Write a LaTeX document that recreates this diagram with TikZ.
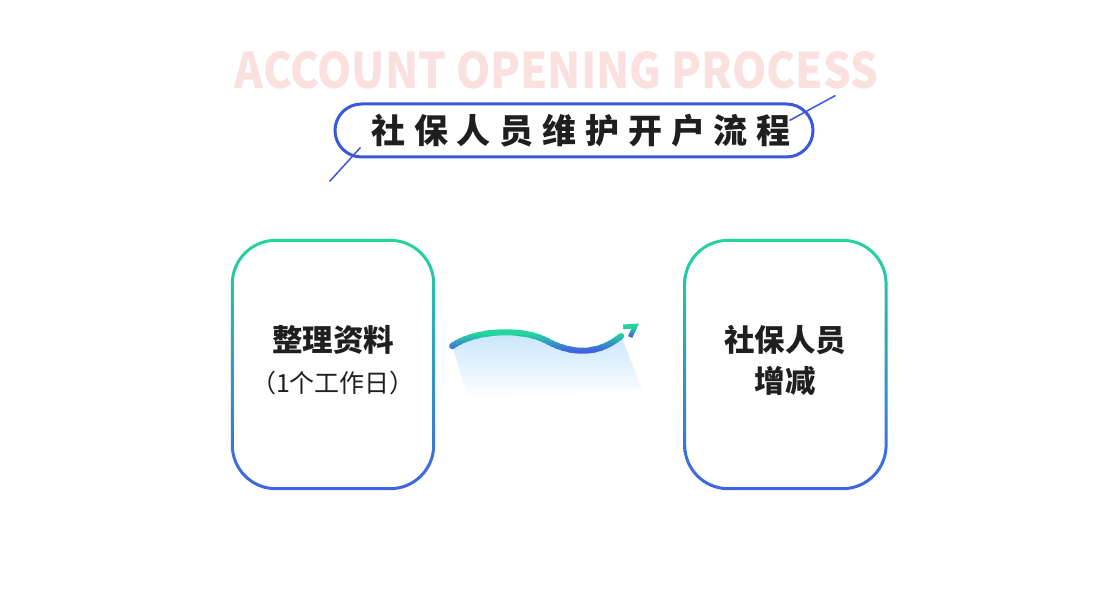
\documentclass[tikz,border=0pt]{standalone}
\usepackage{fontspec}
\setmainfont{Noto Sans CJK SC}
\definecolor{MainGreen}{RGB}{34, 214, 158}
\definecolor{MainBlue}{RGB}{64, 98, 226}
\definecolor{FrameBlue}{RGB}{58, 88, 222}
\definecolor{PaleRed}{RGB}{250, 224, 222}
\definecolor{ShadeBlue}{RGB}{196, 228, 250}
\usetikzlibrary{arrows.meta, positioning, calc}

\begin{document}
\begin{tikzpicture}[x=1pt, y=1pt]
        \tikzstyle{card} = [rectangle, minimum width=204pt, minimum height=251pt, text depth=12pt, align=center, text=black!88, font=\bfseries\fontsize{30.5}{41}\selectfont]
        \tikzstyle{frame} = [top color=MainGreen, bottom color=MainBlue, even odd rule]
        \tikzstyle{wave} = [line width=6pt, line cap=round]
        \tikzstyle{barb} = [line width=4.5pt, line cap=butt, line join=miter]

        \fill[white] (0,0) rectangle (1110,591);
        \useasboundingbox (0,0) rectangle (1110,591);

        % Titles
        \node (entitle) at (556.5,521) [text=PaleRed, font=\bfseries\fontsize{49}{49}\selectfont] {\scalebox{0.89}[1]{ACCOUNT OPENING PROCESS}};
        \node (title) at (574,460.5) [draw=FrameBlue, line width=3pt, rounded corners=26.5pt, minimum width=478pt, minimum height=53pt, inner sep=0pt, text=black!88, font=\bfseries\fontsize{34}{34}\selectfont] {\hspace*{14pt}\addfontfeatures{LetterSpace=26}社保人员维护开户流程};
        \draw [FrameBlue, line width=1.5pt] ([shift={(-4,-23)}]title.south west) -- ([shift={(27,11)}]title.south west);
        \draw [FrameBlue, line width=1.5pt] ([shift={(-25,-18)}]title.north east) -- ([shift={(21,7)}]title.north east);

        % Nodes
        \node (prep) at (333,226.5) [card] {整理资料\\{\mdseries\fontsize{25}{41}\selectfont （1个工作日）}};
        \node (change) [card, right=248pt of prep] {社保人员\\增减};

        % Frames
        \foreach \n in {prep, change}
            \shade [frame, rounded corners=45pt] (\n.south west) rectangle (\n.north east)
                [rounded corners=42pt] ([shift={(3,3)}]\n.south west) rectangle ([shift={(-3,-3)}]\n.north east);

        % Wave
        \coordinate (wS) at ([shift={(17,18.5)}]prep.east);
        \coordinate (wE) at ([shift={(-62,28.5)}]change.west);
        \coordinate (wM) at ($(wS)+(93,6)$);
        \coordinate (wT) at ($(wE)+(14,10)$);
        \shade [top color=ShadeBlue, bottom color=white] (wS) .. controls +(23,16) and +(-25,12) .. (wM) .. controls +(25,-14) and +(-24,-20) .. (wE) -- ([shift={(21,-54)}]wE) -- ([shift={(16,-52)}]wS) -- cycle;
        \foreach \i in {0,...,23} {
            \pgfmathsetmacro\mix{min(100,max(0,(\i*2+229-240)/17*100))}
            \pgfmathsetmacro\tipmix{min(100,max(0,(\i*2+229-254)/10*100))}
            \begin{scope}
                \clip (0,228+2*\i) rectangle (1110,230.5+2*\i);
                \draw [wave, MainGreen!\mix!MainBlue] (wS) .. controls +(23,16) and +(-25,12) .. (wM) .. controls +(25,-14) and +(-24,-20) .. (wE);
                \draw [barb, MainGreen!\tipmix!MainBlue] ([shift={(-12,-1)}]wT) -- (wT) -- ([shift={(-5,-11)}]wT);
            \end{scope}
        }
    \end{tikzpicture}
\end{document}
